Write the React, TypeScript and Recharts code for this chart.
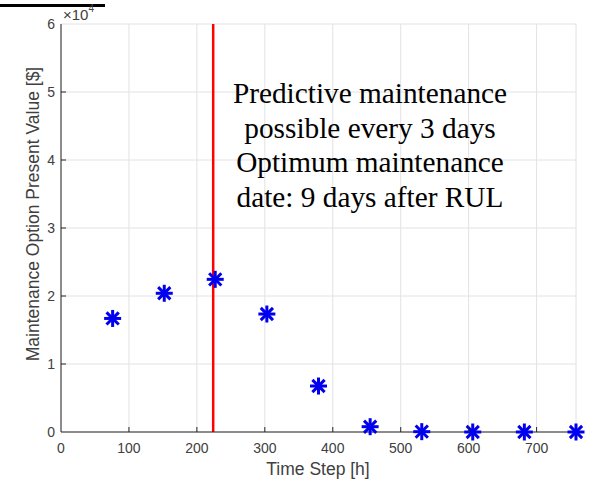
import {
  ScatterChart,
  Scatter,
  XAxis,
  YAxis,
  CartesianGrid,
  ReferenceLine,
} from "recharts";

const timeSteps = [76, 152, 227, 303, 379, 455, 531, 606, 682, 758];
const optionValues = [16700, 20400, 22450, 17350, 6760, 780, 50, 0, 0, 0];
const xTicks = [0, 100, 200, 300, 400, 500, 600, 700];
const yTicks = [0, 10000, 20000, 30000, 40000, 50000, 60000];
const rulTime = 224;
const noteLines = [
  "Predictive maintenance",
  "possible every 3 days",
  "Optimum maintenance",
  "date: 9 days after RUL",
];

const data = timeSteps.map((t, i) => ({ t, v: optionValues[i] }));

const axisColor = "#262626";
const labelColor = "#404040";
const sans = "'Liberation Sans', Arial, sans-serif";

function Asterisk({ cx, cy }: any) {
  const r = 8.5;
  const d = r * 0.72;
  return (
    <g stroke="#0000ee" strokeWidth={3}>
      <line x1={cx - r} y1={cy} x2={cx + r} y2={cy} />
      <line x1={cx} y1={cy - r} x2={cx} y2={cy + r} />
      <line x1={cx - d} y1={cy - d} x2={cx + d} y2={cy + d} />
      <line x1={cx - d} y1={cy + d} x2={cx + d} y2={cy - d} />
    </g>
  );
}

// MATLAB style: tick marks point into the box
const BottomTick = ({ x, y, payload }: any) => (
  <g>
    {payload.value > 0 && <line x1={x} y1={y} x2={x} y2={y - 5} stroke={axisColor} />}
    <text x={x} y={y + 21} textAnchor="middle" fontSize={14} fill={labelColor} fontFamily={sans}>
      {payload.value}
    </text>
  </g>
);

const LeftTick = ({ x, y, payload }: any) => (
  <g>
    {payload.value > 0 && payload.value < 60000 && (
      <line x1={x} y1={y} x2={x + 5} y2={y} stroke={axisColor} />
    )}
    <text x={x - 6} y={y + 5} textAnchor="end" fontSize={14} fill={labelColor} fontFamily={sans}>
      {payload.value / 10000}
    </text>
  </g>
);

const TopTick = ({ x, y, payload }: any) =>
  payload.value > 0 ? <line x1={x} y1={y} x2={x} y2={y + 5} stroke={axisColor} /> : <g />;

const RightTick = ({ x, y, payload }: any) =>
  payload.value > 0 && payload.value < 60000 ? (
    <line x1={x} y1={y} x2={x - 5} y2={y} stroke={axisColor} />
  ) : (
    <g />
  );

export default function App() {
  return (
    <div style={{ position: "absolute", left: 0, top: 0, width: 592, height: 479, background: "#fff" }}>
      <ScatterChart width={592} height={479} margin={{ top: 24, right: 16, bottom: 17, left: 0 }}>
        <CartesianGrid stroke="#e2e2e2" />
        <XAxis
          type="number"
          dataKey="t"
          domain={[0, 758]}
          ticks={xTicks}
          height={30}
          tickSize={0}
          tickMargin={0}
          tickLine={false}
          axisLine={{ stroke: axisColor }}
          tick={<BottomTick />}
        />
        <XAxis
          xAxisId="top"
          orientation="top"
          type="number"
          domain={[0, 758]}
          ticks={xTicks}
          height={0}
          tickSize={0}
          tickMargin={0}
          tickLine={false}
          axisLine={{ stroke: axisColor }}
          tick={<TopTick />}
        />
        <YAxis
          type="number"
          dataKey="v"
          domain={[0, 60000]}
          ticks={yTicks}
          width={61}
          tickSize={0}
          tickMargin={0}
          tickLine={false}
          axisLine={{ stroke: axisColor }}
          tick={<LeftTick />}
        />
        <YAxis
          yAxisId="right"
          orientation="right"
          type="number"
          domain={[0, 60000]}
          ticks={yTicks}
          width={0}
          tickSize={0}
          tickMargin={0}
          tickLine={false}
          axisLine={{ stroke: axisColor }}
          tick={<RightTick />}
        />
        <ReferenceLine x={rulTime} stroke="#ff0000" strokeWidth={2.5} />
        <Scatter data={data} shape={<Asterisk />} isAnimationActive={false} />
      </ScatterChart>

      <svg
        width={592}
        height={479}
        style={{ position: "absolute", left: 0, top: 0, pointerEvents: "none" }}
      >
        <rect x={0} y={4} width={105} height={3} fill="#000" />
        <text x={63} y={20} fontSize={15} fill={labelColor} fontFamily={sans}>
          ×10
          <tspan fontSize={10} dy={-8}>4</tspan>
        </text>
        <text x={318} y={475} textAnchor="middle" fontSize={17.5} fill={labelColor} fontFamily={sans}>
          Time Step [h]
        </text>
        <text
          x={0}
          y={0}
          transform="translate(39, 214) rotate(-90)"
          textAnchor="middle"
          fontSize={17.5}
          fill={labelColor}
          fontFamily={sans}
        >
          Maintenance Option Present Value [$]
        </text>
        {noteLines.map((line, i) => (
          <text
            key={i}
            x={370}
            y={103 + i * 34.7}
            textAnchor="middle"
            fontSize={29.3}
            fill="#000"
            fontFamily="'Liberation Serif', 'Times New Roman', serif"
          >
            {line}
          </text>
        ))}
      </svg>
    </div>
  );
}
